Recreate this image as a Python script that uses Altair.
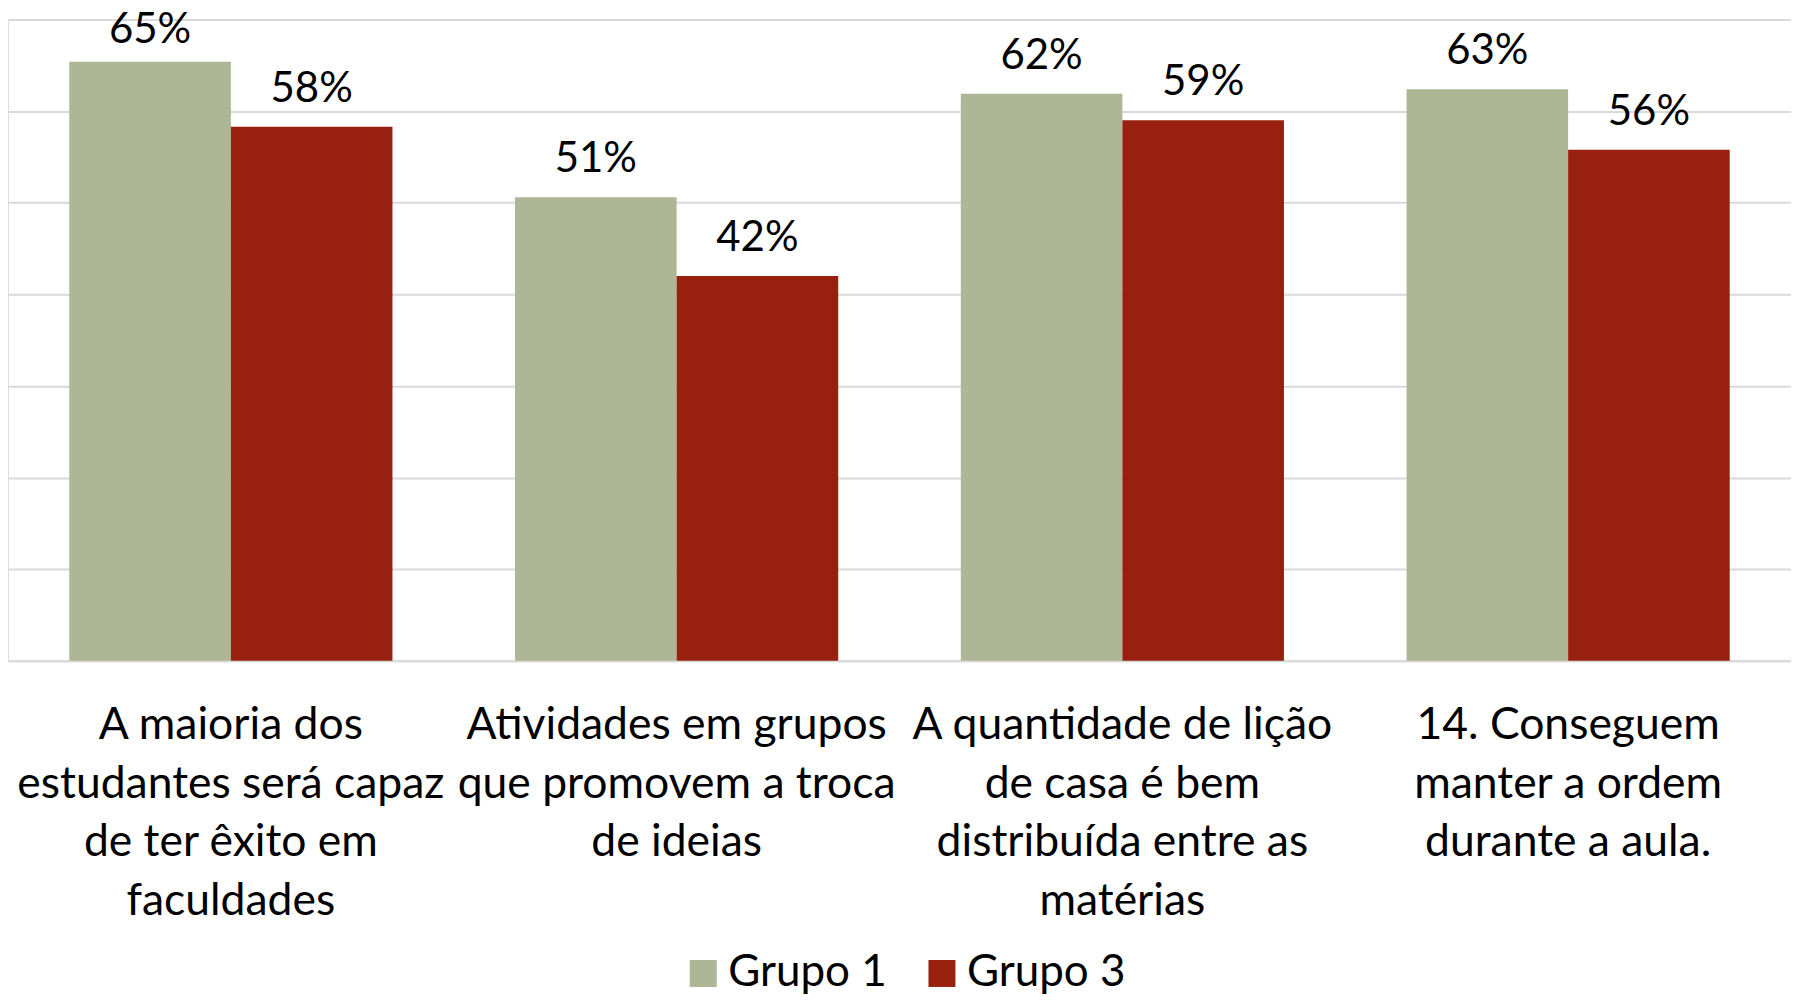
import altair as alt
import pandas as pd

categories = [
    "A maioria dos|estudantes será capaz|de ter êxito em|faculdades",
    "Atividades em grupos|que promovem a troca|de ideias",
    "A quantidade de lição|de casa é bem|distribuída entre as|matérias",
    "14. Conseguem|manter a ordem|durante a aula.",
]
series_names = ["Grupo 1", "Grupo 3"]
grupo1 = [65.4, 50.6, 61.9, 62.4]
grupo3 = [58.3, 42.0, 59.0, 55.8]
grupo1_labels = ["65%", "51%", "62%", "63%"]
grupo3_labels = ["58%", "42%", "59%", "56%"]
colors = ["#ADB795", "#97210E"]

rows = []
for c, a, b, la, lb in zip(categories, grupo1, grupo3, grupo1_labels, grupo3_labels):
    rows.append({"cat": c, "serie": series_names[0], "v": a, "lab": la})
    rows.append({"cat": c, "serie": series_names[1], "v": b, "lab": lb})
df = pd.DataFrame(rows)

FONT = "Lato"

x = alt.X(
    "cat:N",
    sort=categories,
    scale=alt.Scale(paddingInner=0.275, paddingOuter=0.1375),
    axis=alt.Axis(
        title=None,
        labelAngle=0,
        labelExpr="split(datum.label, '|')",
        labelFont=FONT,
        labelFontSize=44.5,
        labelColor="#000000",
        labelLineHeight=58.5,
        labelBaseline="top",
        labelPadding=43,
        labelLimit=0,
        ticks=False,
        domainColor="#D9D9D9",
        domainWidth=2,
        grid=False,
    ),
)
xo = alt.XOffset("serie:N", sort=series_names, scale=alt.Scale(paddingInner=0, paddingOuter=0))
y = alt.Y(
    "v:Q",
    scale=alt.Scale(domain=[0, 70], nice=False),
    axis=alt.Axis(
        title=None,
        values=[0, 10, 20, 30, 40, 50, 60, 70],
        labels=False,
        ticks=False,
        domain=False,
        grid=True,
        gridColor="#D9D9D9",
        gridWidth=2,
    ),
)

bars = alt.Chart(df).mark_bar().encode(
    x=x,
    xOffset=xo,
    y=y,
    color=alt.Color(
        "serie:N",
        sort=series_names,
        scale=alt.Scale(domain=series_names, range=colors),
        legend=alt.Legend(
            title=None,
            orient="none",
            direction="horizontal",
            legendX=674,
            legendY=933,
            symbolType="square",
            symbolSize=729,
            symbolStrokeWidth=0,
            symbolOpacity=1,
            labelFont=FONT,
            labelFontSize=44,
            labelColor="#000000",
            labelOffset=3,
            columnPadding=33,
            padding=0,
        ),
    ),
)

# labels stay inside the plot area, as the source chart keeps them
texts = alt.Chart(df).transform_calculate(
    ly="min(datum.v, 64.75)"
).mark_text(
    font=FONT, fontSize=42, color="#000000", baseline="alphabetic", dy=-25
).encode(
    x=alt.X("cat:N", sort=categories),
    xOffset=alt.XOffset("serie:N", sort=series_names),
    y=alt.Y("ly:Q"),
    text="lab:N",
)

chart = (
    alt.layer(bars, texts)
    .properties(
        width=1785,
        height=642,
        autosize=alt.AutoSizeParams(type="none"),
        padding={"left": 0, "top": 11, "right": 0, "bottom": 334},
    )
    .configure_view(stroke=None)
    .configure(background="white")
)

chart.save("out.html", embed_options={"renderer": "svg", "actions": False})
